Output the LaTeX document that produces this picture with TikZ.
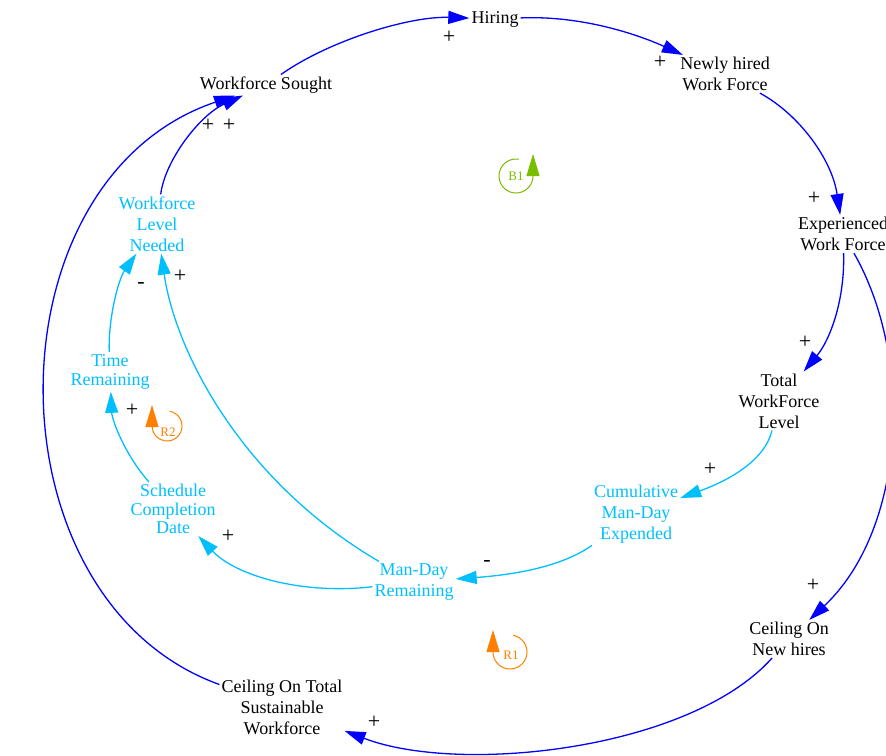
\documentclass[tikz,border=0pt]{standalone}
\usepackage{fontspec}
\setmainfont{Liberation Serif}
\usetikzlibrary{arrows.meta}
\definecolor{linkblue}{RGB}{0,0,255}
\definecolor{linkcyan}{RGB}{0,191,255}
\definecolor{loopgreen}{RGB}{122,190,0}
\definecolor{looporange}{RGB}{255,128,0}

\begin{document}
\begin{tikzpicture}[x=1pt,y=-1pt,
  var/.style={align=center, inner sep=2pt, font=\fontsize{18}{21}\selectfont},
  blackvar/.style={var, text=black},
  cyanvar/.style={var, text=linkcyan},
  link/.style={line width=1.3pt, -{Triangle[length=21pt,width=13pt]}},
  bluelink/.style={link, draw=linkblue},
  cyanlink/.style={link, draw=linkcyan},
  sign/.style={inner sep=0pt, font=\fontsize{22}{24}\selectfont},
  looplabel/.style={inner sep=0pt, font=\fontsize{13}{15}\selectfont},
  looparrow/.style={line width=1pt, -{Triangle[length=22pt,width=13pt]}}
]
\useasboundingbox (0,0) rectangle (886,755);

% variables
\node[blackvar] (hiring) at (495,19) {Hiring};
\node[blackvar] (nh) at (725,74) {Newly hired\\Work Force};
\node[blackvar] (ew) at (843,234) {Experienced\\Work Force};
\node[blackvar] (twl) at (779,401) {Total\\WorkForce\\Level};
\node[cyanvar] (cmd) at (636,514) {Cumulative\\Man-Day\\Expended};
\node[cyanvar] (mdr) at (414,582) {Man-Day\\Remaining};
\node[cyanvar, font=\fontsize{18}{18.5}\selectfont] (scd) at (173,509) {Schedule\\Completion\\Date};
\node[cyanvar, font=\fontsize{18}{19.5}\selectfont] (tr) at (110,372) {Time\\Remaining};
\node[cyanvar] (wln) at (157,224) {Workforce\\Level\\Needed};
\node[blackvar] (ws) at (266,85) {Workforce Sought};
\node[blackvar] (cnh) at (789,639) {Ceiling On\\New hires};
\node[blackvar] (ctsw) at (282,707) {Ceiling On Total\\Sustainable\\Workforce};

% causal links
\draw[bluelink] (ws) .. controls (330,40) and (410,16) .. (hiring);
\draw[bluelink] (hiring) .. controls (590,15) and (650,40) .. (nh);
\draw[bluelink] (nh) .. controls (800,115) and (832,160) .. (ew);
\draw[bluelink] (ew) .. controls (845,300) and (830,340) .. (twl);
\draw[bluelink] (ew) .. controls (915,360) and (905,530) .. (cnh);
\draw[cyanlink] (twl) .. controls (765,460) and (730,480) .. (cmd);
\draw[cyanlink] (cmd) .. controls (560,568) and (510,575) .. (mdr);
\draw[cyanlink] (mdr) .. controls (300,595) and (235,575) .. (scd);
\draw[cyanlink] (mdr) .. controls (240,480) and (175,350) .. (wln);
\draw[cyanlink] (scd) .. controls (125,455) and (112,420) .. (tr);
\draw[cyanlink] (tr) .. controls (108,320) and (118,280) .. (wln);
\draw[bluelink] (wln) .. controls (165,160) and (200,115) .. (ws);
\draw[bluelink] (ctsw) .. controls (-15,600) and (-15,180) .. (ws);
\draw[bluelink] (cnh) .. controls (690,750) and (460,775) .. (ctsw);

% polarities
\node[sign] (s1) at (449,37) {+};
\node[sign] (s2) at (660,62) {+};
\node[sign] (s3) at (814,198) {+};
\node[sign] (s4) at (805,342) {+};
\node[sign] (s5) at (813,585) {+};
\node[sign] (s6) at (710,469) {+};
\node[sign] (s7) at (487,563) {-};
\node[sign] (s8) at (228,536) {+};
\node[sign] (s9) at (180,276) {+};
\node[sign] (s10) at (132,410) {+};
\node[sign] (s11) at (141,285) {-};
\node[sign] (s12) at (208,125) {+};
\node[sign] (s13) at (229,125) {+};
\node[sign] (s14) at (374,722) {+};

% loop markers
\node[looplabel, text=loopgreen] (b1) at (516,176) {B1};
\draw[looparrow, loopgreen] (516,176) ++(-80:17) arc[start angle=-80, end angle=-360, radius=17] -- ++(0,-22);
\node[looplabel, text=looporange] (r1) at (511,655) {R1};
\draw[looparrow, looporange] (510,652) ++(-80:17) arc[start angle=-80, end angle=180, radius=17] -- ++(0,-22);
\node[looplabel, text=looporange] (r2) at (168,432) {R2};
\draw[looparrow, looporange] (167,426) ++(-80:15) arc[start angle=-80, end angle=180, radius=15] -- ++(0,-21);
\end{tikzpicture}
\end{document}
